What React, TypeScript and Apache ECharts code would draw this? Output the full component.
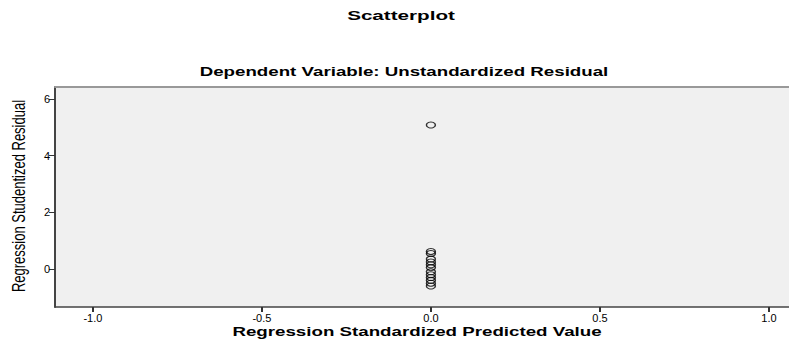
import React, { useEffect, useRef } from "react";
import * as echarts from "echarts";

const chartTitle = "Scatterplot";
const chartSubtitle = "Dependent Variable: Unstandardized Residual";
const xAxisName = "Regression Standardized Predicted Value";
const yAxisName = "Regression Studentized Residual";

const predictedValues = [0, 0, 0, 0, 0, 0, 0, 0, 0, 0, 0, 0, 0];
const studentizedResiduals = [5.08, 0.62, 0.55, 0.35, 0.25, 0.15, 0.05, -0.1, -0.2, -0.3, -0.4, -0.5, -0.6];

const xTicks = [-1.0, -0.5, 0.0, 0.5, 1.0];
const yTicks = [0, 2, 4, 6];

const FONT = "Liberation Sans, Arial, sans-serif";

export default function App() {
  const ref = useRef<HTMLDivElement>(null);
  useEffect(() => {
    if (!ref.current) return;
    const chart = echarts.init(ref.current, undefined, { renderer: "svg" });
    const points = predictedValues.map((x, i) => [x, studentizedResiduals[i]]);
    chart.setOption({
      animation: false,
      backgroundColor: "#ffffff",
      grid: {
        left: 55,
        top: 87,
        right: 0,
        bottom: 40,
        show: true,
        backgroundColor: "#f0f0f0",
        borderWidth: 0,
      },
      graphic: [
        {
          type: "text",
          x: 401,
          y: 16,
          scaleX: 1.72,
          style: {
            text: chartTitle,
            font: "bold 12px " + FONT,
            fill: "#000",
            align: "center",
            verticalAlign: "middle",
          },
        },
        {
          type: "text",
          x: 404,
          y: 71,
          scaleX: 1.44,
          style: {
            text: chartSubtitle,
            font: "bold 13px " + FONT,
            fill: "#000",
            align: "center",
            verticalAlign: "middle",
          },
        },
        {
          type: "text",
          x: 417,
          y: 332,
          scaleX: 1.56,
          style: {
            text: xAxisName,
            font: "bold 12px " + FONT,
            fill: "#000",
            align: "center",
            verticalAlign: "middle",
          },
        },
        {
          type: "text",
          x: 19,
          y: 196,
          rotation: Math.PI / 2,
          scaleY: 1.35,
          style: {
            text: yAxisName,
            font: "13px " + FONT,
            fill: "#000",
            align: "center",
            verticalAlign: "middle",
          },
        },
      ],
      xAxis: [
        {
          type: "value",
          min: -1.112,
          max: 1.083,
          position: "bottom",
          splitLine: { show: false },
          axisLine: { show: true, onZero: false, lineStyle: { color: "#444", width: 1.5 } },
          axisTick: {
            show: true,
            length: 5,
            customValues: xTicks,
            lineStyle: { color: "#333", width: 2 },
          },
          axisLabel: {
            customValues: xTicks,
            margin: 5,
            fontSize: 11,
            fontFamily: FONT,
            color: "#000",
            formatter: (v: number) => v.toFixed(1),
          },
        },
        {
          type: "value",
          min: -1.112,
          max: 1.083,
          position: "top",
          splitLine: { show: false },
          axisLine: { show: true, onZero: false, lineStyle: { color: "#999", width: 2 } },
          axisTick: { show: false },
          axisLabel: { show: false },
        },
      ],
      yAxis: {
        type: "value",
        min: -1.34,
        max: 6.42,
        splitLine: { show: false },
        axisLine: { show: true, onZero: false, lineStyle: { color: "#444", width: 2 } },
        axisTick: {
          show: true,
          length: 6,
          customValues: yTicks,
          lineStyle: { color: "#333", width: 1 },
        },
        axisLabel: {
          customValues: yTicks,
          margin: 5,
          fontSize: 11,
          fontFamily: FONT,
          color: "#000",
          formatter: (v: number) => String(v),
        },
      },
      series: [
        {
          type: "scatter",
          xAxisIndex: 0,
          data: points,
          symbol: "circle",
          symbolSize: [9, 6],
          itemStyle: { color: "transparent", borderColor: "#000", borderWidth: 1.2 },
          emphasis: { disabled: true },
        },
      ],
    });
    return () => chart.dispose();
  }, []);
  return <div ref={ref} style={{ width: 797, height: 347, margin: -8 }} />;
}
